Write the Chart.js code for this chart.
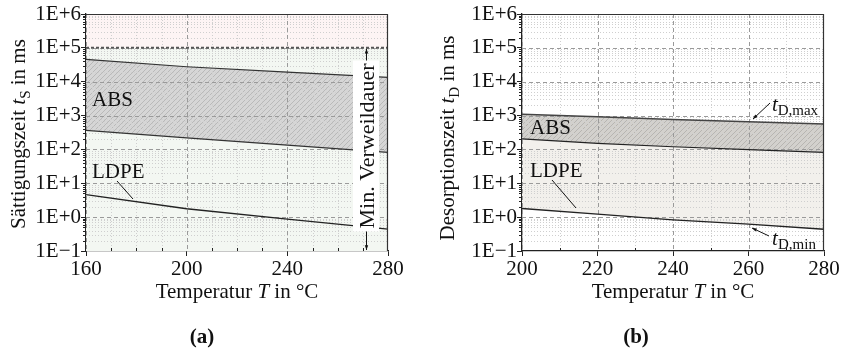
<!DOCTYPE html>
<html>
<head>
<meta charset="utf-8">
<script src="https://cdn.jsdelivr.net/npm/chart.js@4.4.1/dist/chart.umd.min.js"></script>
<style>
  body { margin: 0; background: #fff; }
  #wrap { position: relative; width: 844px; height: 350px; }
  .panel { position: absolute; top: 0; width: 422px; height: 350px; }
</style>
</head>
<body>
<div id="wrap">
  <div class="panel" style="left:0"><canvas id="ca" width="422" height="350"></canvas></div>
  <div class="panel" style="left:422px"><canvas id="cb" width="422" height="350"></canvas></div>
</div>
<script>
// ---- (a) saturation time ----
const tempA = [160, 200, 240, 280];
const absUpperA = [46000, 27700, 19200, 13500];
const absLowerA = [366, 218, 134, 82];
const ldpeA = [4.6, 1.77, 0.87, 0.44];
const minDwell = 1e5;
const xTicksA = [160, 200, 240, 280];

// ---- (b) desorption time ----
const tempB = [200, 220, 240, 260, 280];
const absMaxB = [1100, 920, 766, 660, 567];
const absLowerB = [204, 151, 120, 99, 82];
const ldpeMinB = [1.8, 1.23, 0.83, 0.62, 0.44];
const xTicksB = [200, 220, 240, 260, 280];

// ---- shared log axis ----
const decadeValues = [0.1, 1, 10, 100, 1000, 10000, 100000, 1000000];
const decadeLabels = ['1E\u22121', '1E+0', '1E+1', '1E+2', '1E+3', '1E+4', '1E+5', '1E+6'];

const SERIF = '"Liberation Serif", "Times New Roman", "DejaVu Serif", serif';
const FS = 21;

function pts(xs, ys) { return xs.map((x, i) => ({ x: x, y: ys[i] })); }

function hatch(ctx, base, stroke) {
  const c = document.createElement('canvas');
  c.width = 5; c.height = 5;
  const g = c.getContext('2d');
  g.fillStyle = base; g.fillRect(0, 0, 5, 5);
  g.strokeStyle = stroke; g.lineWidth = 1;
  [[-1, 6, 6, -1], [-1, 1, 1, -1], [4, 6, 6, 4]].forEach(s => {
    g.beginPath(); g.moveTo(s[0], s[1]); g.lineTo(s[2], s[3]); g.stroke();
  });
  return ctx.createPattern(c, 'repeat');
}

// draws a run of text pieces (font, text, vertical shift) centred on cx
function drawRuns(ctx, runs, cx, by) {
  let w = 0;
  runs.forEach(r => { ctx.font = r.f; w += ctx.measureText(r.t).width; });
  let x = cx - w / 2;
  ctx.textAlign = 'left';
  ctx.textBaseline = 'alphabetic';
  runs.forEach(r => {
    ctx.font = r.f;
    ctx.fillText(r.t, x, by + (r.dy || 0));
    x += ctx.measureText(r.t).width;
  });
}
const F = FS + 'px ' + SERIF;
const FI = 'italic ' + FS + 'px ' + SERIF;
const FSUB = '15px ' + SERIF;

function arrow(ctx, x1, y1, x2, y2, head) {
  ctx.beginPath(); ctx.moveTo(x1, y1); ctx.lineTo(x2, y2); ctx.stroke();
  const a = Math.atan2(y2 - y1, x2 - x1);
  ctx.beginPath();
  ctx.moveTo(x2, y2);
  ctx.lineTo(x2 - head * Math.cos(a - 0.35), y2 - head * Math.sin(a - 0.35));
  ctx.lineTo(x2 - head * Math.cos(a + 0.35), y2 - head * Math.sin(a + 0.35));
  ctx.closePath(); ctx.fill();
}

function hline(ctx, x1, x2, y, color, dash, w) {
  ctx.strokeStyle = color; ctx.setLineDash(dash); ctx.lineWidth = w || 1;
  ctx.beginPath(); ctx.moveTo(x1, y); ctx.lineTo(x2, y); ctx.stroke();
}
function vline(ctx, x, y1, y2, color, dash, w) {
  ctx.strokeStyle = color; ctx.setLineDash(dash); ctx.lineWidth = w || 1;
  ctx.beginPath(); ctx.moveTo(x, y1); ctx.lineTo(x, y2); ctx.stroke();
}

// dotted minor / dashed major grid, frame and minor tick marks
const gridPlugin = {
  id: 'logGrid',
  beforeDatasetsDraw(chart, args, opts) {
    const { ctx, chartArea: a, scales: { x, y } } = chart;
    ctx.save();
    ctx.beginPath(); ctx.rect(a.left, a.top, a.right - a.left, a.bottom - a.top); ctx.clip();
    for (let e = -1; e < 6; e++) {
      for (let m = 2; m <= 9; m++) {
        const py = Math.round(y.getPixelForValue(m * Math.pow(10, e))) + 0.5;
        hline(ctx, a.left, a.right, py, '#cfcfcf', [1, 2]);
      }
    }
    for (let t = x.min; t <= x.max; t += opts.minorStep) {
      if (opts.major.indexOf(t) >= 0) continue;
      const px = Math.round(x.getPixelForValue(t)) + 0.5;
      vline(ctx, px, a.top, a.bottom, '#cfcfcf', [1, 2]);
    }
    decadeValues.forEach(v => {
      const py = Math.round(y.getPixelForValue(v)) + 0.5;
      hline(ctx, a.left, a.right, py, '#9a9a9a', [4, 3]);
    });
    opts.major.forEach(t => {
      const px = Math.round(x.getPixelForValue(t)) + 0.5;
      vline(ctx, px, a.top, a.bottom, '#9a9a9a', [4, 3]);
    });
    ctx.restore();
  },
  afterDatasetsDraw(chart, args, opts) {
    const { ctx, chartArea: a, scales: { x, y } } = chart;
    ctx.save();
    // minor ticks
    for (let e = -1; e < 6; e++) {
      for (let m = 2; m <= 9; m++) {
        const py = Math.round(y.getPixelForValue(m * Math.pow(10, e))) + 0.5;
        hline(ctx, a.left - 3, a.left, py, '#222', []);
      }
    }
    for (let t = x.min; t <= x.max; t += opts.minorStep) {
      if (opts.major.indexOf(t) >= 0) continue;
      const px = Math.round(x.getPixelForValue(t)) + 0.5;
      vline(ctx, px, a.bottom - 3, a.bottom, '#222', []);
    }
    // top and right frame
    hline(ctx, a.left, a.right, Math.round(a.top) + 0.5, '#333', [], 1.2);
    vline(ctx, Math.round(a.right) - 0.5, a.top, a.bottom, '#333', [], 1.2);
    ctx.restore();
  }
};

function makeScales(xMin, xMax, xTicks, yWidth) {
  return {
    x: {
      type: 'linear', min: xMin, max: xMax,
      afterBuildTicks: s => { s.ticks = xTicks.map(v => ({ value: v })); },
      afterFit: s => { s.height = 99; },
      grid: { drawOnChartArea: false, drawTicks: true, tickLength: 5, color: '#222', lineWidth: 1 },
      border: { color: '#222', width: 1.3 },
      ticks: { font: { family: SERIF, size: FS }, color: '#111', padding: 1, maxRotation: 0, autoSkip: false,
               callback: v => String(v) }
    },
    y: {
      type: 'logarithmic', min: 0.1, max: 1e6,
      afterBuildTicks: s => { s.ticks = decadeValues.map(v => ({ value: v, major: true })); },
      afterFit: s => { s.width = yWidth; },
      grid: { drawOnChartArea: false, drawTicks: true, tickLength: 5, color: '#222', lineWidth: 1 },
      border: { color: '#222', width: 1.3 },
      ticks: { font: { family: SERIF, size: FS }, color: '#111', padding: 0, autoSkip: false,
               callback: (v, i) => decadeLabels[i] }
    }
  };
}

const baseOpts = {
  responsive: false, animation: false, events: [],
  plugins: { legend: { display: false }, tooltip: { enabled: false }, filler: { drawTime: 'beforeDatasetsDraw' } },
  elements: { point: { radius: 0 }, line: { tension: 0 } }
};

// ---------- chart (a) ----------
const ctxA = document.getElementById('ca').getContext('2d');
const labelsA = {
  id: 'labelsA',
  afterDraw(chart) {
    const { ctx, chartArea: a } = chart;
    ctx.save();
    ctx.fillStyle = '#111'; ctx.strokeStyle = '#111';
    ctx.font = F; ctx.textAlign = 'left'; ctx.textBaseline = 'alphabetic';
    ctx.fillText('ABS', 92, 106);
    ctx.fillText('LDPE', 92, 178);
    ctx.lineWidth = 1; ctx.setLineDash([]);
    ctx.beginPath(); ctx.moveTo(117, 181); ctx.lineTo(133, 199); ctx.stroke();
    // minimum dwell time annotation
    const cx = 366, cy = 146;
    ctx.font = '22px ' + SERIF;
    const tw = ctx.measureText('Min. Verweildauer').width;
    ctx.fillStyle = '#fff';
    ctx.fillRect(cx - 13, cy - tw / 2 - 3, 26, tw + 6);
    ctx.fillStyle = '#111';
    ctx.save();
    ctx.translate(cx + 8, cy);
    ctx.rotate(-Math.PI / 2);
    ctx.textAlign = 'center';
    ctx.fillText('Min. Verweildauer', 0, 0);
    ctx.restore();
    ctx.lineWidth = 1;
    const yTop = chart.scales.y.getPixelForValue(minDwell);
    arrow(ctx, cx + 0.5, cy - tw / 2 - 3, cx + 0.5, yTop + 1, 5);
    arrow(ctx, cx + 0.5, cy + tw / 2 + 3, cx + 0.5, a.bottom - 1, 5);
    // axis titles
    ctx.save();
    ctx.translate(25, 134);
    ctx.rotate(-Math.PI / 2);
    drawRuns(ctx, [{ f: F, t: 'S\u00e4ttigungszeit ' }, { f: FI, t: 't' }, { f: FSUB, t: 'S', dy: 5 }, { f: F, t: ' in ms' }], 0, 0);
    ctx.restore();
    drawRuns(ctx, [{ f: F, t: 'Temperatur ' }, { f: FI, t: 'T' }, { f: F, t: ' in \u00b0C' }], 237, 298);
    drawRuns(ctx, [{ f: 'bold ' + FS + 'px ' + SERIF, t: '(a)' }], 202, 343);
    ctx.restore();
  }
};

new Chart(ctxA, {
  type: 'line',
  data: {
    datasets: [
      { label: 'ABS max', data: pts(tempA, absUpperA), borderColor: '#333', borderWidth: 1.2,
        fill: '+1', backgroundColor: hatch(ctxA, '#d6d6d6', '#b9b9b9') },
      { label: 'ABS min', data: pts(tempA, absLowerA), borderColor: '#333', borderWidth: 1.2, fill: false },
      { label: 'LDPE', data: pts(tempA, ldpeA), borderColor: '#222', borderWidth: 1.3, fill: false },
      { label: 'Min. Verweildauer', data: pts([160, 280], [minDwell, minDwell]), borderColor: '#555',
        borderWidth: 2, borderDash: [3, 2], fill: 'end', backgroundColor: '#fdf4f4' },
      { label: 'Bereich', data: pts([160, 280], [minDwell, minDwell]), borderWidth: 0,
        borderColor: 'rgba(0,0,0,0)', fill: 'start', backgroundColor: '#f3f7f2' }
    ]
  },
  options: Object.assign({}, baseOpts, {
    layout: { padding: { top: 14, right: 34, left: 0, bottom: 0 } },
    scales: makeScales(160, 280, xTicksA, 86),
    plugins: Object.assign({}, baseOpts.plugins, { logGrid: { minorStep: 10, major: xTicksA } })
  }),
  plugins: [gridPlugin, labelsA]
});

// ---------- chart (b) ----------
const ctxB = document.getElementById('cb').getContext('2d');
const labelsB = {
  id: 'labelsB',
  afterDraw(chart) {
    const { ctx } = chart;
    ctx.save();
    ctx.fillStyle = '#111'; ctx.strokeStyle = '#111';
    ctx.font = F; ctx.textAlign = 'left'; ctx.textBaseline = 'alphabetic';
    ctx.fillText('ABS', 108, 134);
    ctx.fillText('LDPE', 108, 177);
    ctx.lineWidth = 1; ctx.setLineDash([]);
    ctx.beginPath(); ctx.moveTo(130, 180); ctx.lineTo(154, 208); ctx.stroke();
    // t_D,max / t_D,min markers
    arrow(ctx, 348, 103, 331, 119, 5);
    drawRuns(ctx, [{ f: FI, t: 't' }, { f: FSUB, t: 'D,max', dy: 4 }], 373, 111);
    arrow(ctx, 347, 236, 330, 228, 5);
    drawRuns(ctx, [{ f: FI, t: 't' }, { f: FSUB, t: 'D,min', dy: 4 }], 372, 245);
    // axis titles
    ctx.save();
    ctx.translate(32, 138);
    ctx.rotate(-Math.PI / 2);
    drawRuns(ctx, [{ f: F, t: 'Desorptionszeit ' }, { f: FI, t: 't' }, { f: FSUB, t: 'D', dy: 5 }, { f: F, t: ' in ms' }], 0, 0);
    ctx.restore();
    drawRuns(ctx, [{ f: F, t: 'Temperatur ' }, { f: FI, t: 'T' }, { f: F, t: ' in \u00b0C' }], 251, 298);
    drawRuns(ctx, [{ f: 'bold ' + FS + 'px ' + SERIF, t: '(b)' }], 214, 343);
    ctx.restore();
  }
};

new Chart(ctxB, {
  type: 'line',
  data: {
    datasets: [
      { label: 't_D,max', data: pts(tempB, absMaxB), borderColor: '#444', borderWidth: 1.5,
        fill: '+1', backgroundColor: hatch(ctxB, '#d3d1cd', '#b7b5b1') },
      { label: 'ABS min', data: pts(tempB, absLowerB), borderColor: '#222', borderWidth: 1.2,
        fill: '+1', backgroundColor: '#f2f0ec' },
      { label: 't_D,min', data: pts(tempB, ldpeMinB), borderColor: '#222', borderWidth: 1.4, fill: false }
    ]
  },
  options: Object.assign({}, baseOpts, {
    layout: { padding: { top: 14, right: 20, left: 0, bottom: 0 } },
    scales: makeScales(200, 280, xTicksB, 100),
    plugins: Object.assign({}, baseOpts.plugins, { logGrid: { minorStep: 10, major: xTicksB } })
  }),
  plugins: [gridPlugin, labelsB]
});
</script>
</body>
</html>
